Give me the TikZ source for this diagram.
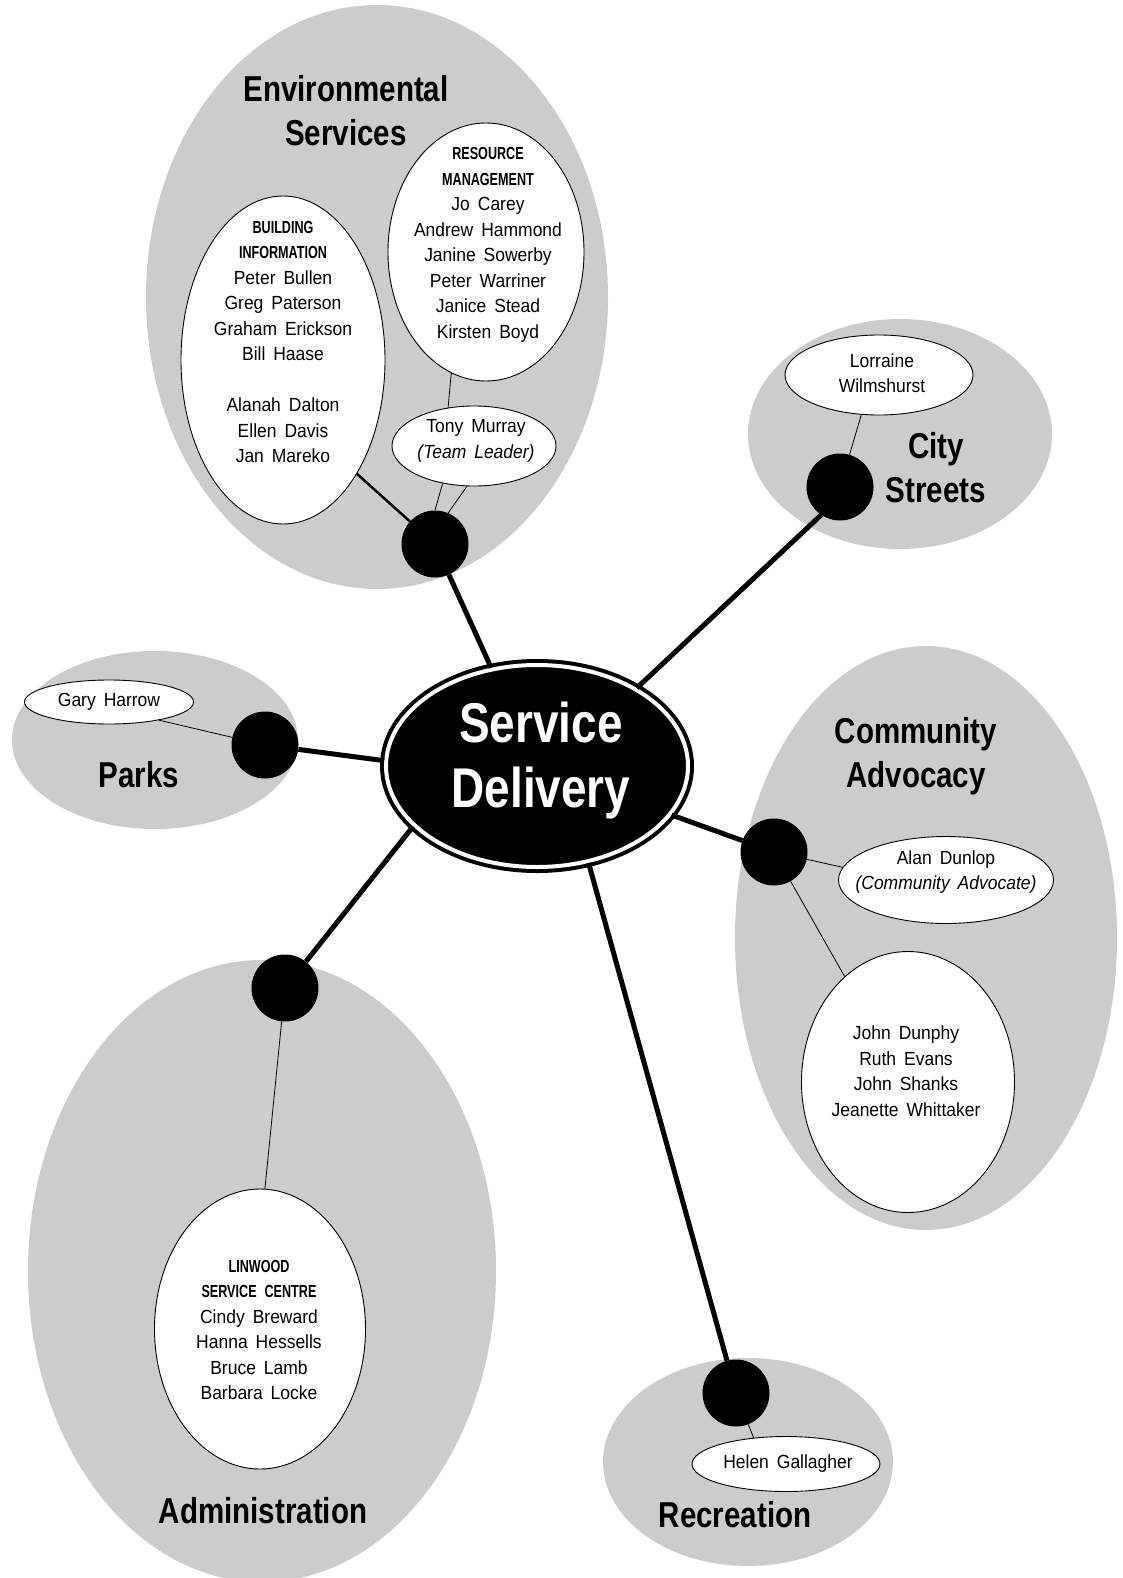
\documentclass[tikz,border=0pt]{standalone}
\usepackage{fontspec}
\setmainfont{Liberation Sans}[FakeStretch=0.92]
\newfontfamily\headfont{Liberation Sans}[FakeStretch=0.82]
\newfontfamily\capsfont{Liberation Sans}[FakeStretch=0.72]
\usepackage{tikz}
\usetikzlibrary{shapes.geometric}
\usetikzlibrary{positioning}
\newcommand{\grouphead}[1]{{\capsfont\bfseries\fontsize{17.5}{24}\selectfont #1}}
\newcommand{\widespace}{\spaceskip=0.42em plus 0.1em\relax}

\begin{document}
\begin{tikzpicture}[x=1pt, y=-1pt,
  area/.style={ellipse, fill=black!20, inner sep=0pt},
  pod/.style={ellipse, draw, fill=white, line width=0.9pt, inner sep=0pt},
  hub/.style={circle, fill=black, minimum size=67pt, inner sep=0pt},
  names/.style={align=center, font=\fontsize{19}{25.5}\selectfont\widespace},
  head/.style={align=center, font=\headfont\bfseries\fontsize{36}{44}\selectfont},
  spoke/.style={line width=5pt},
  link/.style={line width=0.8pt}]
\useasboundingbox[fill=white] (0,0) rectangle (1123,1578);

\node[area, minimum width=462, minimum height=584] (envarea) at (377,297) {};
\node[area, minimum width=304, minimum height=230] (cityarea) at (900,434) {};
\node[area, minimum width=286, minimum height=178] (parkarea) at (155,740) {};
\node[area, minimum width=382, minimum height=584] (commarea) at (926,938) {};
\node[area, minimum width=468, minimum height=622] (adminarea) at (262,1271) {};
\node[area, minimum width=290, minimum height=208] (recarea) at (748,1462) {};

\node[head] (envlabel) at (346,111) {Environmental\\Services};
\node[head] (citylabel) at (936,468) {City\\Streets};
\node[head] (parklabel) at (139,775) {Parks};
\node[head] (commlabel) at (916,756) {Community\\Advocacy};
\node[head] (adminlabel) at (263,1511) {Administration};
\node[head] (reclabel) at (735,1515) {Recreation};

\node[ellipse, fill=black, draw=black, double=white, line width=4pt, double distance=4pt,
  minimum width=302, minimum height=202, inner sep=0pt] (sd) at (537,766) {};
\node[text=white, align=center, font=\headfont\bfseries\fontsize{56}{65}\selectfont] (sdtext) at (541,761) {Service\\Delivery};

\node[hub] (envhub) at (435,544) {};
\node[hub] (cityhub) at (840,487) {};
\node[hub] (parkhub) at (265,745) {};
\node[hub] (commhub) at (774,852) {};
\node[hub] (adminhub) at (285,988) {};
\node[hub] (rechub) at (736,1393) {};

\draw[spoke] (envhub) -- (sd.115);
\draw[spoke] (cityhub.236) -- (sd.38);
\draw[spoke] (parkhub) -- (sd.178);
\draw[spoke] (commhub) -- (sd.340);
\draw[spoke] (adminhub) -- (sd.206);
\draw[spoke] (rechub) -- (sd.298);

\node[pod, minimum width=204, minimum height=328] (bi) at (283,360) {};
\node[pod, minimum width=196, minimum height=258] (rm) at (486,252) {};
\node[pod, minimum width=164, minimum height=80] (tony) at (474,446) {};
\node[pod, minimum width=188, minimum height=80] (lw) at (879,375) {};
\node[pod, minimum width=169, minimum height=44] (gary) at (109,702) {};
\node[pod, minimum width=215, minimum height=87] (alan) at (946,880) {};
\node[pod, minimum width=213, minimum height=261] (jd) at (908,1082) {};
\node[pod, minimum width=211, minimum height=280] (lc) at (260,1329) {};
\node[pod, minimum width=188, minimum height=55] (helen) at (786,1464) {};

\node[names] (bitext) at (283,342) {\grouphead{BUILDING}\\ \grouphead{INFORMATION}\\ Peter Bullen\\ Greg Paterson\\ Graham Erickson\\ Bill Haase\\[25.5pt] Alanah Dalton\\ Ellen Davis\\ Jan Mareko};
\node[names] (rmtext) at (488,245) {\grouphead{RESOURCE}\\ \grouphead{MANAGEMENT}\\ Jo Carey\\ Andrew Hammond\\ Janine Sowerby\\ Peter Warriner\\ Janice Stead\\ Kirsten Boyd};
\node[names] (tonytext) at (476,441) {Tony Murray\\ \textit{(Team Leader)}};
\node[names] (lwtext) at (882,373) {Lorraine\\ Wilmshurst};
\node[names] (garytext) at (109,702) {Gary Harrow};
\node[names] (alantext) at (946,872) {Alan Dunlop\\ \textit{(Community Advocate)}};
\node[names] (jdtext) at (906,1071) {John Dunphy\\ Ruth Evans\\ John Shanks\\ Jeanette Whittaker};
\node[names] (lctext) at (259,1330) {\grouphead{LINWOOD}\\ \grouphead{SERVICE CENTRE}\\ Cindy Breward\\ Hanna Hessells\\ Bruce Lamb\\ Barbara Locke};
\node[names] (helentext) at (788,1464) {Helen Gallagher};

\draw[line width=2.5pt] (bi.303) -- (envhub);
\draw[link] (rm.254) -- (tony.124);
\draw[link] (tony.230) -- (envhub.90);
\draw[link] (tony.260) -- (envhub.67);
\draw[link] (lw.246) -- (cityhub);
\draw[link] (gary.340) -- (parkhub);
\draw[link] (commhub) -- (alan.173);
\draw[link] (commhub) -- (jd.121);
\draw[link] (adminhub) -- (lc.88);
\draw[link] (rechub) -- (helen.141);
\end{tikzpicture}
\end{document}
